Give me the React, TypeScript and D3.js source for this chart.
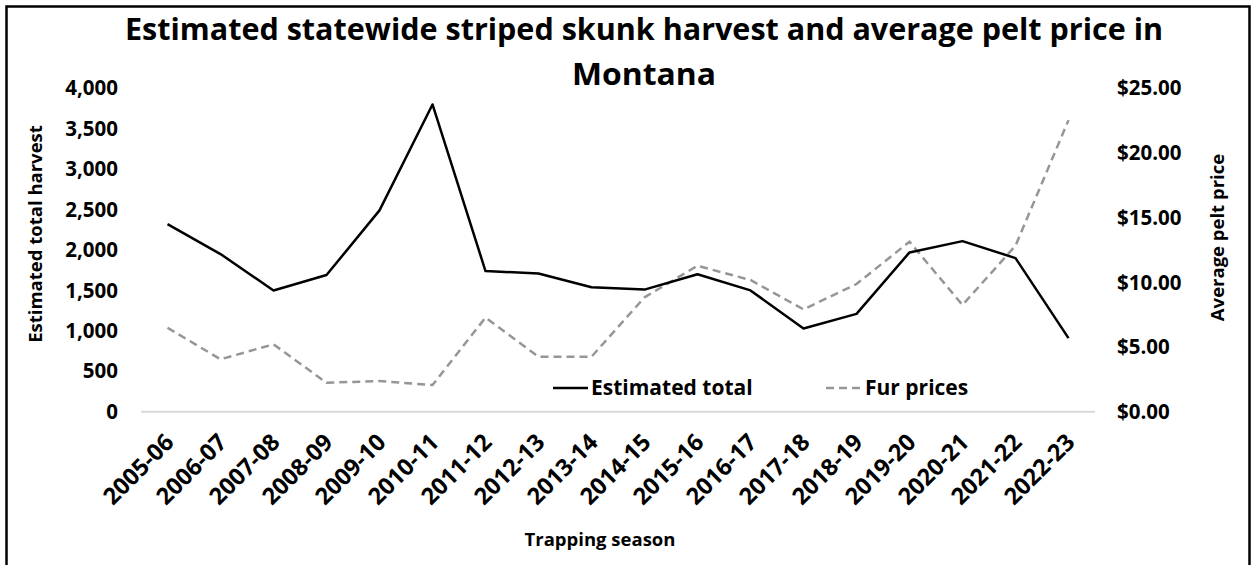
import React from "react";
import * as d3 from "d3";

const seasons = ["2005-06","2006-07","2007-08","2008-09","2009-10","2010-11","2011-12","2012-13","2013-14","2014-15","2015-16","2016-17","2017-18","2018-19","2019-20","2020-21","2021-22","2022-23"];
const harvest = [2320,1950,1500,1690,2490,3800,1740,1710,1540,1510,1700,1500,1030,1210,1970,2110,1900,910];
const furPrices = [6.49,4.05,5.21,2.24,2.37,2.06,7.27,4.25,4.25,8.84,11.28,10.18,7.91,9.87,13.14,8.25,12.83,22.54];
const leftTicks = [0,500,1000,1500,2000,2500,3000,3500,4000];
const rightTicks = [0,5,10,15,20,25];

const FONT = "'Open Sans', 'Noto Sans', sans-serif";

export default function App() {
  const W = 1257, H = 565;
  const x = d3.scaleBand<string>().domain(seasons).range([141, 1095]);
  const yL = d3.scaleLinear().domain([0, 4000]).range([411.7, 88.3]);
  const yR = d3.scaleLinear().domain([0, 25]).range([411.7, 88.3]);
  const cx = (s: string) => (x(s) as number) + x.bandwidth() / 2;

  const lineH = d3.line<number>().x((_, i) => cx(seasons[i])).y((d) => yL(d));
  const lineF = d3.line<number>().x((_, i) => cx(seasons[i])).y((d) => yR(d));
  const fmtL = d3.format(",");
  const fmtR = (v: number) => "$" + v.toFixed(2);

  return (
    <svg width={W} height={H} style={{ position: "absolute", left: 0, top: 0, background: "#fff" }} fontFamily={FONT}>
      <rect x={0} y={0} width={W} height={H} fill="#fff" />
      <rect x={6.5} y={6.5} width={1243} height={H + 10} fill="none" stroke="#000" strokeWidth={2.5} />
      <text x={125} y={40} fontSize={31} fontWeight={700} textLength={1038} lengthAdjust="spacingAndGlyphs">
        Estimated statewide striped skunk harvest and average pelt price in
      </text>
      <text x={572} y={85} fontSize={31} fontWeight={700} textLength={144} lengthAdjust="spacingAndGlyphs">
        Montana
      </text>

      {/* baseline */}
      <line x1={141} x2={1095} y1={yL(0)} y2={yL(0)} stroke="#d9d9d9" strokeWidth={2} />

      {/* left ticks */}
      {leftTicks.map((t) => (
        <text key={"l" + t} x={118} y={yL(t)} dy="0.35em" textAnchor="end" fontSize={20.5} fontWeight={700}>
          {fmtL(t)}
        </text>
      ))}
      {/* right ticks */}
      {rightTicks.map((t) => (
        <text key={"r" + t} x={1117} y={yR(t)} dy="0.35em" textAnchor="start" fontSize={20.5} fontWeight={700}>
          {fmtR(t)}
        </text>
      ))}

      {/* x tick labels */}
      {seasons.map((s) => (
        <text key={s} transform={`translate(${cx(s) + 2},${438}) rotate(-45)`} textAnchor="end" dy="0.35em" fontSize={23.5} fontWeight={700}>
          {s}
        </text>
      ))}

      {/* axis titles */}
      <text transform={`translate(42,234) rotate(-90)`} textAnchor="middle" fontSize={18.5} fontWeight={700}>
        Estimated total harvest
      </text>
      <text transform={`translate(1224,237.5) rotate(-90)`} textAnchor="middle" fontSize={18.5} fontWeight={700}>
        Average pelt price
      </text>
      <text x={600} y={546} textAnchor="middle" fontSize={18.5} fontWeight={700}>
        Trapping season
      </text>

      {/* lines */}
      <path d={lineF(furPrices) || ""} fill="none" stroke="#969696" strokeWidth={2.5} strokeDasharray="8,5" />
      <path d={lineH(harvest) || ""} fill="none" stroke="#000" strokeWidth={2.5} strokeLinejoin="round" />

      {/* legend */}
      <line x1={553} x2={588} y1={388} y2={388} stroke="#000" strokeWidth={2.5} />
      <text x={591} y={388} dy="0.35em" fontSize={21} fontWeight={700}>Estimated total</text>
      <line x1={826} x2={860} y1={388} y2={388} stroke="#969696" strokeWidth={2.5} strokeDasharray="8,5" />
      <text x={865} y={388} dy="0.35em" fontSize={21} fontWeight={700}>Fur prices</text>
    </svg>
  );
}
